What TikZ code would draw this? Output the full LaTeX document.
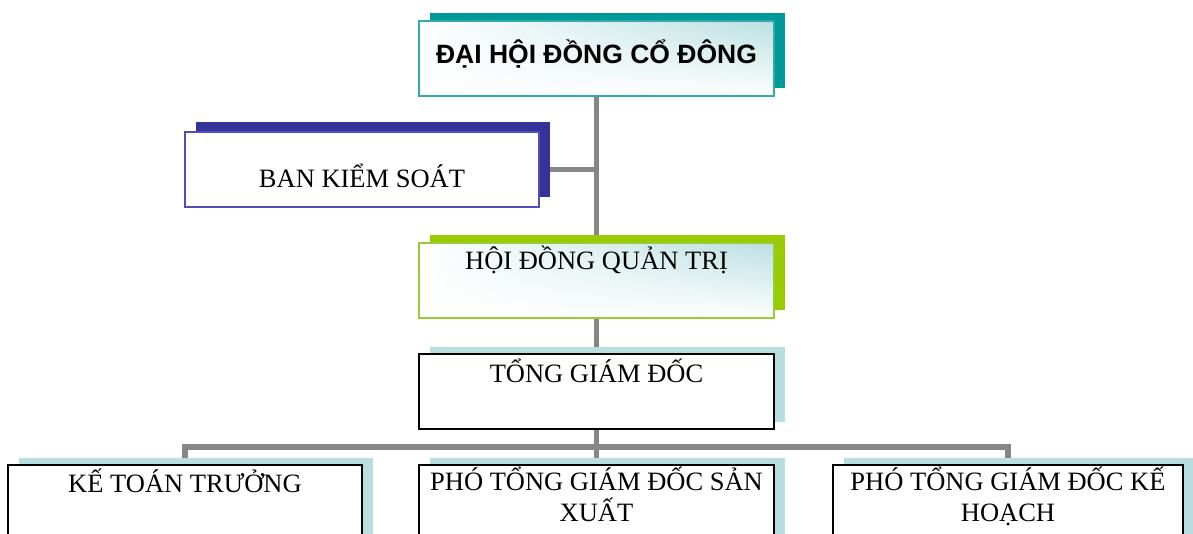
\documentclass[tikz,border=0pt]{standalone}
\usepackage{fontspec}
\setmainfont{Liberation Serif}
\newfontfamily\titlefont{Liberation Sans}
\usetikzlibrary{shadows,fadings}
\pgfdeclarelayer{bg}
\pgfsetlayers{bg,main}
\definecolor{tealS}{RGB}{0,153,153}
\definecolor{tealB}{RGB}{51,170,170}
\definecolor{tealL}{RGB}{186,224,226}
\definecolor{navyS}{RGB}{51,51,153}
\definecolor{navyB}{RGB}{80,80,180}
\definecolor{greenS}{RGB}{153,204,0}
\definecolor{greenB}{RGB}{153,204,51}
\definecolor{lblue}{RGB}{184,222,224}
\definecolor{conn}{RGB}{134,134,134}
\tikzset{
  box/.style={rectangle, minimum width=355pt, minimum height=75pt, inner sep=0pt},
  gradbox/.style={box, left color=white, right color=tealL,
     postaction={fill=white, path fading=north},
     postaction={draw=#1, line width=2pt}},
  plainbox/.style={box, fill=white, draw=black, line width=2pt,
     general shadow={fill=lblue, shadow xshift=11pt, shadow yshift=7pt}},
  txt/.style={anchor=base, inner sep=0pt, font=\fontsize{26.5}{31}\selectfont},
  conline/.style={draw=conn, line width=5.5pt}
}
\begin{document}
\begin{tikzpicture}[x=1pt,y=-1pt]
\path[use as bounding box] (0,0) rectangle (1193,534);
\begin{scope}
\clip (0,0) rectangle (1193,534);
% boxes
\node[gradbox=tealB, general shadow={fill=tealS, shadow xshift=11pt, shadow yshift=8pt}] (top) at (596.5,58.5) {};
\node[box, fill=white, draw=navyB, line width=1.5pt, minimum width=354pt, general shadow={fill=navyS, shadow xshift=11pt, shadow yshift=10pt}] (bks) at (362,169.5) {};
\node[gradbox=greenB, general shadow={fill=greenS, shadow xshift=11pt, shadow yshift=8pt}] (hdqt) at (596.5,280.5) {};
\node[plainbox] (tgd) at (596.5,391.5) {};
\node[plainbox, minimum width=354pt, minimum height=100pt] (ktt) at (185,515) {};
\node[plainbox, minimum height=100pt] (pts) at (596.5,515) {};
\node[plainbox, minimum width=350pt, minimum height=100pt] (ptk) at (1008,515) {};
% texts
\node[txt, font=\titlefont\bfseries\fontsize{26.5}{31}\selectfont] (ttop) at (596.5,64) {ĐẠI HỘI ĐỒNG CỔ ĐÔNG};
\node[txt] (tbks) at (362,188) {BAN KIỂM SOÁT};
\node[txt] (thdqt) at (596.5,270) {HỘI ĐỒNG QUẢN TRỊ};
\node[txt] (ttgd) at (596.5,382) {TỔNG GIÁM ĐỐC};
\node[txt] (tktt) at (185,492) {KẾ TOÁN TRƯỞNG};
\node[txt] (tpts1) at (596.5,490) {PHÓ TỔNG GIÁM ĐỐC SẢN};
\node[txt] (tpts2) at (596.5,521) {XUẤT};
\node[txt] (tptk1) at (1008,490) {PHÓ TỔNG GIÁM ĐỐC KẾ};
\node[txt] (tptk2) at (1008,521) {HOẠCH};
\end{scope}
\coordinate (bus) at (596.5,447);
\begin{pgfonlayer}{bg}
\draw[conline] (top.south) -- (hdqt.north);
\draw[conline] (bks.east) -- (bks.east -| top.south);
\draw[conline] (hdqt.south) -- (tgd.north);
\draw[conline] (tgd.south) -- (pts.north);
\draw[conline] (ktt.north) -- (ktt.north |- bus) -- (ptk.north |- bus) -- (ptk.north);
\end{pgfonlayer}
\end{tikzpicture}
\end{document}
